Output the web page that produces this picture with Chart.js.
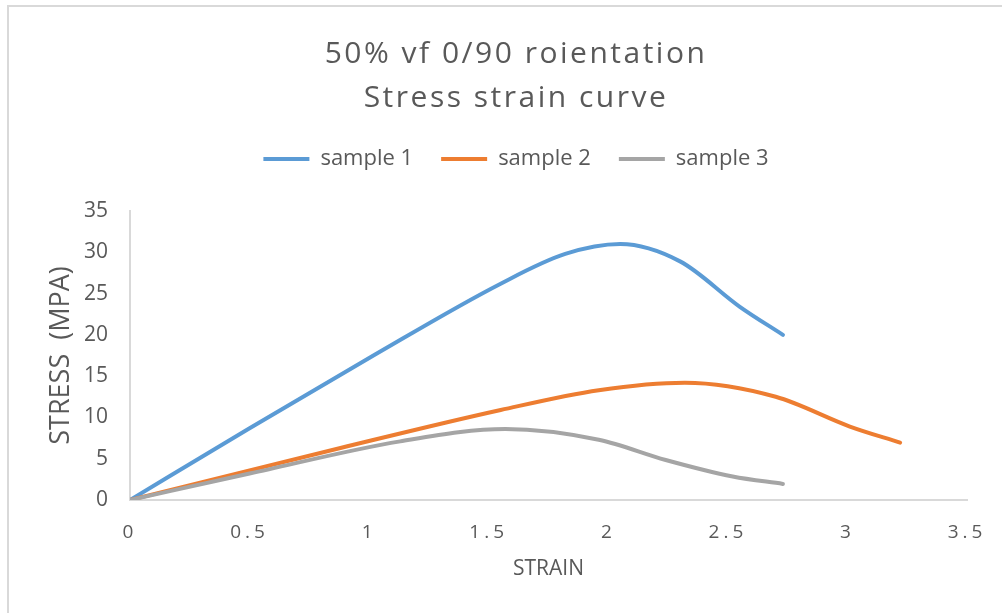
<!DOCTYPE html>
<html>
<head>
<meta charset="utf-8">
<title>50% vf 0/90 roientation - Stress strain curve</title>
<script src="https://cdn.jsdelivr.net/npm/chart.js@4.4.1/dist/chart.umd.min.js"></script>
<style>
  html, body { margin: 0; padding: 0; background: #fff; overflow: hidden; }
  /* excel chart-area border, only the top/left edges show in the crop */
  .frame { position: absolute; left: 7px; top: 5px; width: 1100px; height: 700px; border: 2px solid #d9d9d9; box-sizing: border-box; }
  .wrap { position: absolute; left: 0; top: 0; width: 1002px; height: 613px; }
</style>
</head>
<body>
<div class="frame"></div>
<div class="wrap"><canvas id="chart" width="1002" height="613"></canvas></div>
<script>
// strain / stress (MPa)
const strain1 = [0, 0.5, 1.0, 1.55, 1.82, 2.05, 2.3, 2.55, 2.73];
const stress1 = [0, 8.7, 17.2, 26.2, 29.8, 31.0, 28.9, 23.4, 20.0];

const strain2 = [0, 0.88, 1.55, 1.96, 2.32, 2.7, 3.01, 3.22];
const stress2 = [0, 6.3, 10.9, 13.3, 14.2, 12.5, 8.9, 6.95];

const strain3 = [0, 0.5, 1.13, 1.57, 1.96, 2.24, 2.52, 2.73];
const stress3 = [0, 3.2, 7.1, 8.6, 7.3, 4.85, 2.85, 1.95];

const seriesNames = ['sample 1', 'sample 2', 'sample 3'];
const seriesColors = ['#5b9bd5', '#ed7d31', '#a5a5a5'];
const titleLines = ['50% vf 0/90 roientation', 'Stress strain curve'];
const xTitle = 'STRAIN';
const yTitle = 'STRESS  (MPA)';

const toPoints = (xs, ys) => xs.map((x, i) => ({ x, y: ys[i] }));

Chart.defaults.font.family = "'Open Sans', sans-serif";
Chart.defaults.color = '#595959';

// excel letter-spaces the title and the strain ticks
function spaceOut(target, method, px) {
  if (!target || target['_spaced_' + method]) return;
  const orig = target[method];
  target[method] = function (...args) {
    const ctx = this.ctx;
    ctx.save();
    ctx.letterSpacing = px;
    orig.apply(this, args);
    ctx.restore();
  };
  target['_spaced_' + method] = true;
}

const spacing = {
  id: 'spacing',
  beforeDraw(chart) {
    spaceOut(chart.titleBlock, 'draw', '2.5px');
    spaceOut(chart.scales.x, 'drawLabels', '4px');
  }
};

const datasets = [[strain1, stress1], [strain2, stress2], [strain3, stress3]].map(([xs, ys], i) => ({
  label: seriesNames[i],
  data: toPoints(xs, ys),
  xAxisID: 'x',
  yAxisID: 'y',
  borderColor: seriesColors[i],
  backgroundColor: seriesColors[i],
  borderWidth: 4,
  borderCapStyle: 'round',
  borderJoinStyle: 'round',
  pointRadius: 0,
  pointHoverRadius: 0,
  cubicInterpolationMode: 'monotone',
  fill: false,
  order: 2 - i   // later samples sit on top, like excel
}));

const hidden = { display: false };

new Chart(document.getElementById('chart'), {
  type: 'line',
  data: { datasets },
  plugins: [spacing],
  options: {
    responsive: false,
    animation: false,
    devicePixelRatio: 1,
    layout: { padding: { top: 0, left: 30, right: 0, bottom: 0 } },
    plugins: {
      title: {
        display: true,
        text: titleLines,
        color: '#595959',
        font: { size: 30, weight: 'normal', lineHeight: 1.45 },
        padding: { top: 33, bottom: 0 }
      },
      legend: {
        display: true,
        position: 'top',
        reverse: true,
        labels: {
          usePointStyle: true,
          pointStyle: 'line',
          pointStyleWidth: 46,
          padding: 28,
          color: '#595959',
          font: { size: 22 }
        }
      },
      tooltip: { enabled: false }
    },
    scales: {
      x: {
        type: 'linear',
        position: 'bottom',
        min: 0,
        max: 3.5,
        ticks: {
          stepSize: 0.5,
          padding: 21.6,
          font: { size: 19 },
          color: '#595959',
          maxRotation: 0,
          callback: v => String(v)
        },
        grid: { display: false, drawTicks: false },
        border: { display: true, color: '#d9d9d9', width: 2 },
        title: { display: true, text: xTitle, color: '#595959', font: { size: 21 }, padding: { top: 0, bottom: 31.7 } },
        afterFit(s) { s.height = 113; }
      },
      y: {
        type: 'linear',
        position: 'left',
        min: 0,
        max: 35,
        ticks: { stepSize: 5, padding: 22, font: { size: 21 }, color: '#595959' },
        grid: { display: false, drawTicks: false },
        border: { display: true, color: '#d9d9d9', width: 2 },
        title: { display: true, text: yTitle, color: '#595959', font: { size: 27 }, padding: { top: 15.3, bottom: 0 } },
        afterFit(s) { s.width = 100; }
      },
      // blank space between legend and plot
      gap: {
        type: 'linear',
        position: 'top',
        ticks: hidden,
        grid: { display: false, drawTicks: false },
        border: hidden,
        afterFit(s) { s.height = 31; }
      },
      // blank space right of the plot
      edge: {
        type: 'linear',
        position: 'right',
        ticks: hidden,
        grid: { display: false, drawTicks: false },
        border: hidden,
        afterFit(s) { s.width = 34; }
      }
    }
  }
});
</script>
</body>
</html>
